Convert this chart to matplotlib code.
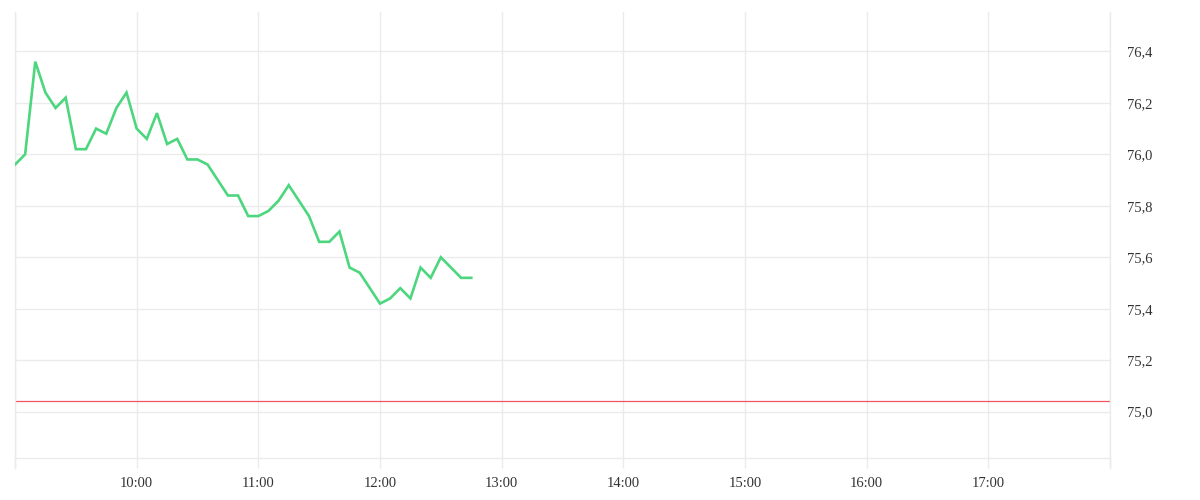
import matplotlib
matplotlib.use('Agg')
import matplotlib.pyplot as plt
import pandas as pd

# Cotización intradía en intervalos de 5 minutos
horas = pd.date_range('2024-01-01 09:00', periods=46, freq='5min')
precios = [75.96, 76.00, 76.36, 76.24, 76.18, 76.22, 76.02, 76.02, 76.10, 76.08,
           76.18, 76.24, 76.10, 76.06, 76.16, 76.04, 76.06, 75.98, 75.98, 75.96,
           75.90, 75.84, 75.84, 75.76, 75.76, 75.78, 75.82, 75.88, 75.82, 75.76,
           75.66, 75.66, 75.70, 75.56, 75.54, 75.48, 75.42, 75.44, 75.48, 75.44,
           75.56, 75.52, 75.60, 75.56, 75.52, 75.52]
cierre_anterior = 75.04

etiquetas_x = ['', '10:00', '11:00', '12:00', '13:00', '14:00', '15:00', '16:00', '17:00', '']
ticks_y = [75.0, 75.2, 75.4, 75.6, 75.8, 76.0, 76.2, 76.4]

# horas decimales para el eje x
x = horas.hour + horas.minute / 60

gris = '#ebebeb'
fig = plt.figure(figsize=(12, 5), dpi=100)
ax = fig.add_axes([0.0125, 0.084, 0.9125, 0.892])

ax.plot(x, precios, color='#4cd67e', linewidth=1.9, solid_joinstyle='miter', zorder=3)
ax.axhline(cierre_anterior, color='#f25560', linewidth=0.9, zorder=2)

ax.set_xlim(9, 18)
ax.set_ylim(74.82, 76.553)
ax.set_xticks(range(9, 19))
ax.set_xticklabels(etiquetas_x)
ax.set_yticks(ticks_y)
ax.set_yticklabels([f'{v:.1f}'.replace('.', ',') for v in ticks_y])

ax.yaxis.tick_right()
ax.grid(True, color=gris, linewidth=1)
ax.set_axisbelow(True)
ax.spines['top'].set_visible(False)
for lado in ['left', 'right', 'bottom']:
    ax.spines[lado].set_color(gris)
    ax.spines[lado].set_linewidth(1)
ax.spines['right'].set_bounds(74.78, 76.553)
ax.spines['left'].set_bounds(74.78, 76.553)

ax.tick_params(axis='x', length=7.5, color=gris, width=1, pad=6,
               labelsize=10.5, labelcolor='#333333')
ax.tick_params(axis='y', length=0, pad=12.5, labelsize=10.5, labelcolor='#333333')
for t in ax.get_xticklabels() + ax.get_yticklabels():
    t.set_family('Liberation Serif')

fig.savefig('out.png', dpi=100, facecolor='white')
